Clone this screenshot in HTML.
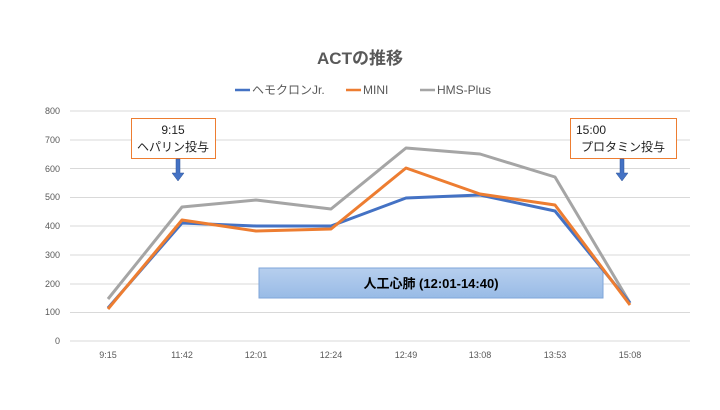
<!DOCTYPE html><html><head><meta charset="utf-8"><style>body{margin:0;background:#fff}svg text{font-family:"Liberation Sans","Noto Sans CJK JP",sans-serif}</style></head><body>
<svg width="720" height="405" viewBox="0 0 720 405">
<defs><linearGradient id="g" x1="0" y1="0" x2="0" y2="1"><stop offset="0" stop-color="#b7cfee"/><stop offset="1" stop-color="#98bbe6"/></linearGradient></defs>
<text x="360" y="64" text-anchor="middle" font-size="17" font-weight="bold" fill="#595959">ACTの推移</text>
<g font-size="12" fill="#595959">
<line x1="235" y1="90" x2="250" y2="90" stroke="#4472c4" stroke-width="2.5"/><text x="252" y="94">ヘモクロンJr.</text>
<line x1="346" y1="90" x2="361" y2="90" stroke="#ed7d31" stroke-width="2.5"/><text x="363" y="94">MINI</text>
<line x1="420" y1="90" x2="435" y2="90" stroke="#a5a5a5" stroke-width="2.5"/><text x="437" y="94">HMS-Plus</text>
</g>
<g stroke="#d9d9d9" stroke-width="1">
<line x1="70" x2="690" y1="111" y2="111"/><line x1="70" x2="690" y1="140" y2="140"/><line x1="70" x2="690" y1="168.5" y2="168.5"/><line x1="70" x2="690" y1="197.5" y2="197.5"/><line x1="70" x2="690" y1="226" y2="226"/><line x1="70" x2="690" y1="255" y2="255"/><line x1="70" x2="690" y1="284" y2="284"/><line x1="70" x2="690" y1="312.5" y2="312.5"/><line x1="70" x2="690" y1="341" y2="341"/>
</g>
<g font-size="9" fill="#595959" text-anchor="end">
<text x="60" y="114">800</text><text x="60" y="143">700</text><text x="60" y="172">600</text><text x="60" y="200">500</text><text x="60" y="229">400</text><text x="60" y="258">300</text><text x="60" y="287">200</text><text x="60" y="315">100</text><text x="60" y="344">0</text>
</g>
<g font-size="9" fill="#595959" text-anchor="middle">
<text x="108" y="358">9:15</text><text x="182" y="358">11:42</text><text x="256" y="358">12:01</text><text x="331" y="358">12:24</text><text x="406" y="358">12:49</text><text x="480" y="358">13:08</text><text x="555" y="358">13:53</text><text x="630" y="358">15:08</text>
</g>
<rect x="259" y="268" width="344" height="30" fill="url(#g)" stroke="#7fa6d9"/>
<text x="431" y="288" text-anchor="middle" font-size="13" font-weight="bold" fill="#000">人工心肺 (12:01-14:40)</text>
<g fill="none" stroke-width="3" stroke-linejoin="round">
<polyline stroke="#a5a5a5" points="108,299 182,207 256,200 331,209 406,148 480,154 555,177 630,303"/>
<polyline stroke="#4472c4" points="108,308 182,223 256,226 331,226 406,198 480,195 555,211 630,303"/>
<polyline stroke="#ed7d31" points="108,309 182,220 256,231 331,229 406,168 480,194 555,205 630,305"/>
</g>
<rect x="131.5" y="118.5" width="84" height="40" fill="#fff" stroke="#ed7d31"/>
<text x="173" y="134" text-anchor="middle" font-size="12" fill="#222">9:15</text>
<text x="173" y="151" text-anchor="middle" font-size="12" fill="#222">ヘパリン投与</text>
<rect x="570.5" y="118.5" width="106" height="40" fill="#fff" stroke="#ed7d31"/>
<text x="576" y="134" font-size="12" fill="#222">15:00</text>
<text x="623" y="151" text-anchor="middle" font-size="12" fill="#222">プロタミン投与</text>
<path d="M176 159h4v14h4l-6 8-6-8h4z" fill="#4472c4" stroke="#2f5597" stroke-width="0.5"/>
<path d="M620 159h4v14h4l-6 8-6-8h4z" fill="#4472c4" stroke="#2f5597" stroke-width="0.5"/>
</svg></body></html>
